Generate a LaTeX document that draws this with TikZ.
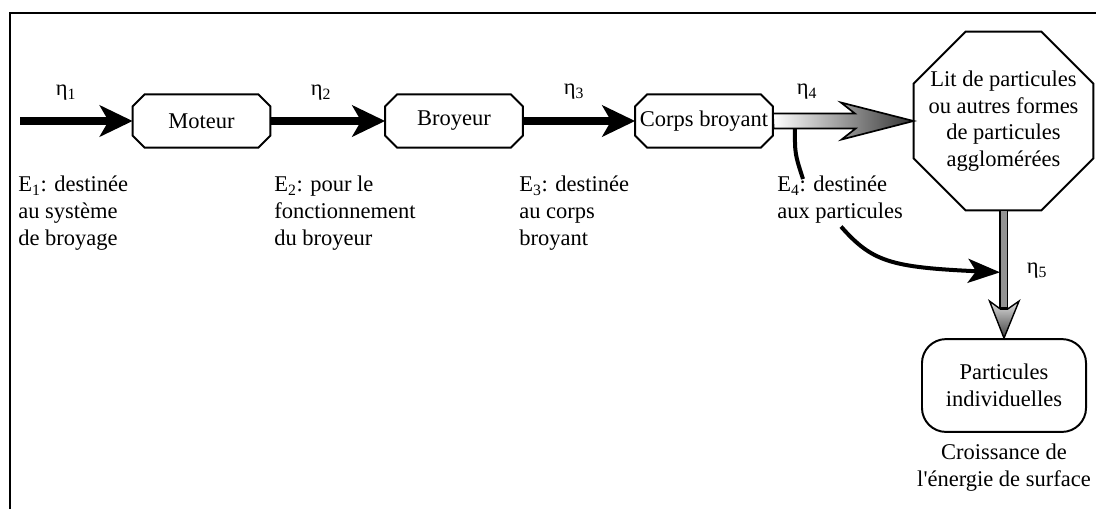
\documentclass[tikz,border=0pt]{standalone}
\usepackage{fontspec}
\setmainfont{Liberation Serif}
\usetikzlibrary{arrows.meta, calc, positioning}

\begin{document}
\begin{tikzpicture}[x=0.025cm, y=-0.025cm,
    font=\fontsize{16}{18.9}\selectfont,
    stage/.style={rectangle, inner sep=0pt, minimum width=3.43cm, minimum height=1.32cm},
    flow/.style={line width=0.2cm, -{Stealth[length=0.82cm, width=0.78cm, inset=0.22cm]}},
    curv/.style={line width=0.1cm},
    note/.style={align=left, anchor=north west, inner sep=0pt}]
    \useasboundingbox (0,0) rectangle (1096,509);
    % frame
    \draw[line width=2.1pt] (10,509) -- (10,13) -- (1096,13);

    \node[stage] (moteur) at (201.5,121) {Moteur};
    \node[stage] (broyeur) at (454,121) {Broyeur};
    \node[stage] (corps) at (704,121) {Corps broyant};
    \node[stage, align=center, minimum width=4.48cm, minimum height=4.45cm] (lit) at (1003.5,121) {Lit de particules\\ou autres formes\\de particules\\agglomérées};
    \foreach \n/\c in {moteur/12, broyeur/12, corps/12, lit/52}
        \draw[line width=1.4pt] ($(\n.north west)+(\c,0)$) -- ($(\n.north east)+(-\c,0)$)
            -- ($(\n.north east)+(0,\c)$) -- ($(\n.south east)+(0,-\c)$)
            -- ($(\n.south east)+(-\c,0)$) -- ($(\n.south west)+(\c,0)$)
            -- ($(\n.south west)+(0,-\c)$) -- ($(\n.north west)+(0,\c)$) -- cycle;
    \node[draw, line width=1.4pt, rounded corners=0.6cm, align=center, minimum width=4.1cm, minimum height=2.32cm] (parts) at (1004,385.5) {Particules\\individuelles};
    \node[align=center, anchor=north, inner sep=0pt] (surf) at (1004,444) {Croissance de\\l\textquotesingle énergie de surface};

    \coordinate (start) at (20,121);
    \draw[flow] (start) -- (moteur.west);
    \draw[flow] (moteur.east) -- (broyeur.west);
    \draw[flow] (broyeur.east) -- (corps.west);

    % shaded arrow to the bed
    \filldraw[line width=1.2pt, left color=white, right color=black!80]
        (corps.east) ++(0,-7.5) -- ++(82,0) -- ++(-14,-11) -- (lit.west)
        -- ++(-72,18.5) -- ++(14,-11) -- ++(-82,0) -- cycle;
    % grey arrow down
    \filldraw[line width=1pt, fill=gray!85] ($(lit.south)+(-3.5,0)$) rectangle ($(parts.north)+(3.5,-30)$);
    \filldraw[line width=1pt, top color=gray!25, bottom color=black!75]
        ($(parts.north)+(-3.5,-29)$) -- ++(-11,-8) -- (parts.north)
        -- ++(15,-37) -- ++(-11.5,8) -- cycle;

    \node (eta1) at (66,93) {η\textsubscript{1}};
    \node (eta2) at (321,93) {η\textsubscript{2}};
    \node (eta3) at (574,92) {η\textsubscript{3}};
    \node (eta4) at (807,92) {η\textsubscript{4}};
    \node (eta5) at (1037,271) {η\textsubscript{5}};

    \node[note] (e1) at (18,176) {E\textsubscript{1}: destinée\\au système\\de broyage};
    \node[note] (e2) at (274,176) {E\textsubscript{2}: pour le\\fonctionnement\\du broyeur};
    \node[note] (e3) at (519,176) {E\textsubscript{3}: destinée\\au corps\\broyant};
    \node[note] (e4) at (777,176) {E\textsubscript{4}: destinée\\aux particules};

    \coordinate (split) at ($(corps.east)+(22,8)$);
    \coordinate (join) at ($(lit.south)+(-3.5,62)$);
    \draw[curv] (split) .. controls ($(split)+(0,25)$) .. ($(e4.north west)+(26,3)$);
    \draw[curv, -{Stealth[length=0.8cm, width=0.6cm, inset=0.2cm]}]
        ($(e4.south west)+(64,3)$) .. controls ($(e4.south west)+(95,38)$) and ($(join)+(-110,-5)$) .. (join);
\end{tikzpicture}
\end{document}
